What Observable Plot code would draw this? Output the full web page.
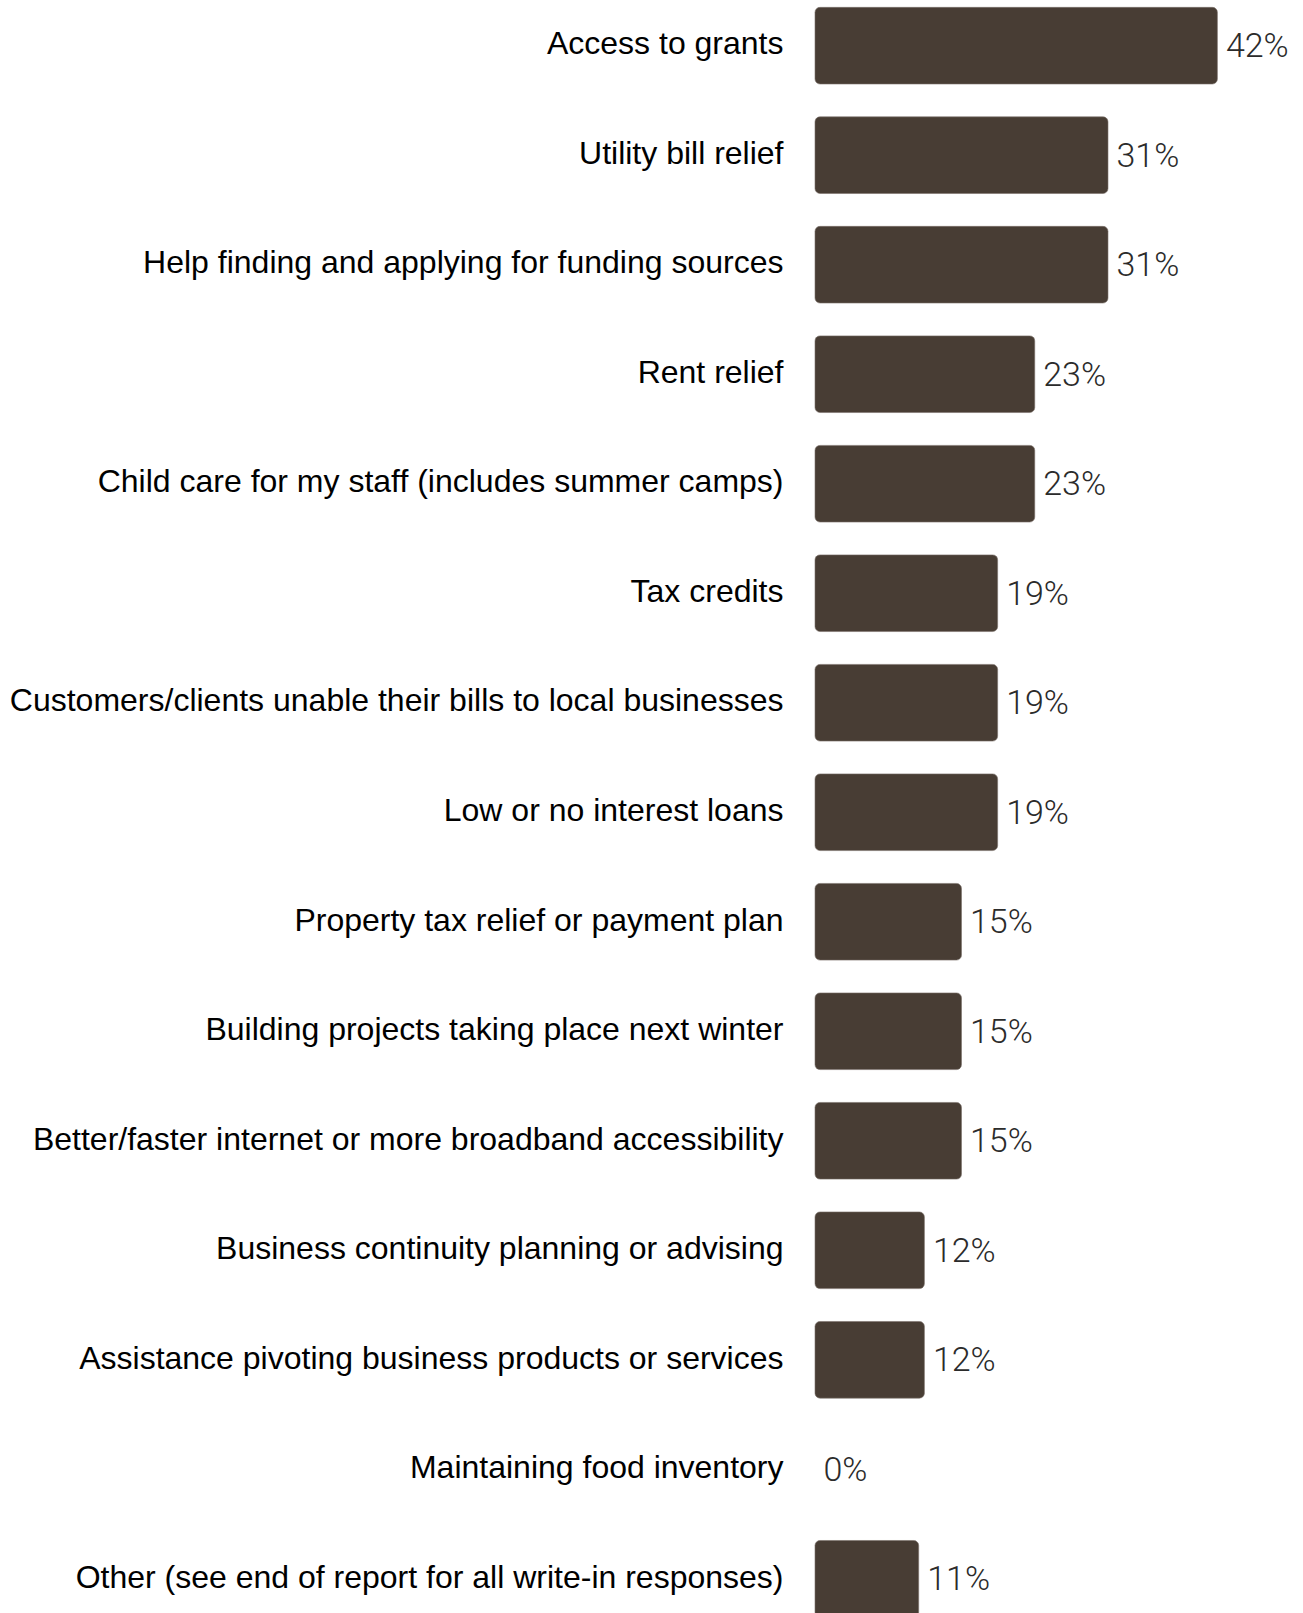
<!DOCTYPE html>
<html>
<head>
<meta charset="utf-8">
<script src="https://cdn.jsdelivr.net/npm/d3@7"></script>
<script src="https://cdn.jsdelivr.net/npm/@observablehq/plot@0.6"></script>
<style>
  html, body { margin: 0; padding: 0; background: #fff; overflow: hidden; }
  #chart svg { display: block; }
</style>
</head>
<body>
<div id="chart"></div>
<script>
const categories = [
  "Access to grants",
  "Utility bill relief",
  "Help finding and applying for funding sources",
  "Rent relief",
  "Child care for my staff (includes summer camps)",
  "Tax credits",
  "Customers/clients unable their bills to local businesses",
  "Low or no interest loans",
  "Property tax relief or payment plan",
  "Building projects taking place next winter",
  "Better/faster internet or more broadband accessibility",
  "Business continuity planning or advising",
  "Assistance pivoting business products or services",
  "Maintaining food inventory",
  "Other (see end of report for all write-in responses)"
];
const values = [42.3, 30.8, 30.8, 23.1, 23.1, 19.2, 19.2, 19.2, 15.4, 15.4, 15.4, 11.5, 11.5, 0, 10.9];
const valueLabels = ["42%", "31%", "31%", "23%", "23%", "19%", "19%", "19%", "15%", "15%", "15%", "12%", "12%", "0%", "11%"];

const data = categories.map((c, i) => ({category: c, value: values[i], label: valueLabels[i]}));

const chart = Plot.plot({
  width: 1303,
  height: 1613,
  marginLeft: 815,
  marginRight: 0,
  marginTop: 0,
  marginBottom: 0,
  style: {background: "#fff"},
  x: {domain: [0, 51.3], axis: null},
  y: {domain: categories, range: [-25.5, 1650], padding: 0.3, round: false, label: null},
  marks: [
    Plot.barX(data, {x: "value", y: "category", fill: "#483d34", stroke: "#7a716a", strokeWidth: 0.6, rx: 5}),
    Plot.text(data, {x: "value", y: "category", text: "label", textAnchor: "start", dx: 8, dy: 0,
      fontFamily: "Roboto", fontWeight: 300, fontSize: 34, fill: "#2b2b2b"}),
    Plot.axisY({tickSize: 0, tickPadding: 32, fontSize: 32, fontFamily: "Liberation Sans", label: null, color: "#000", dy: -2})
  ]
});
document.getElementById("chart").append(chart);
d3.select(chart).selectAll("g[aria-label='y-axis tick label']").attr("font-family", "Liberation Sans").attr("font-size", 32).attr("fill", "#000");
</script>
</body>
</html>
